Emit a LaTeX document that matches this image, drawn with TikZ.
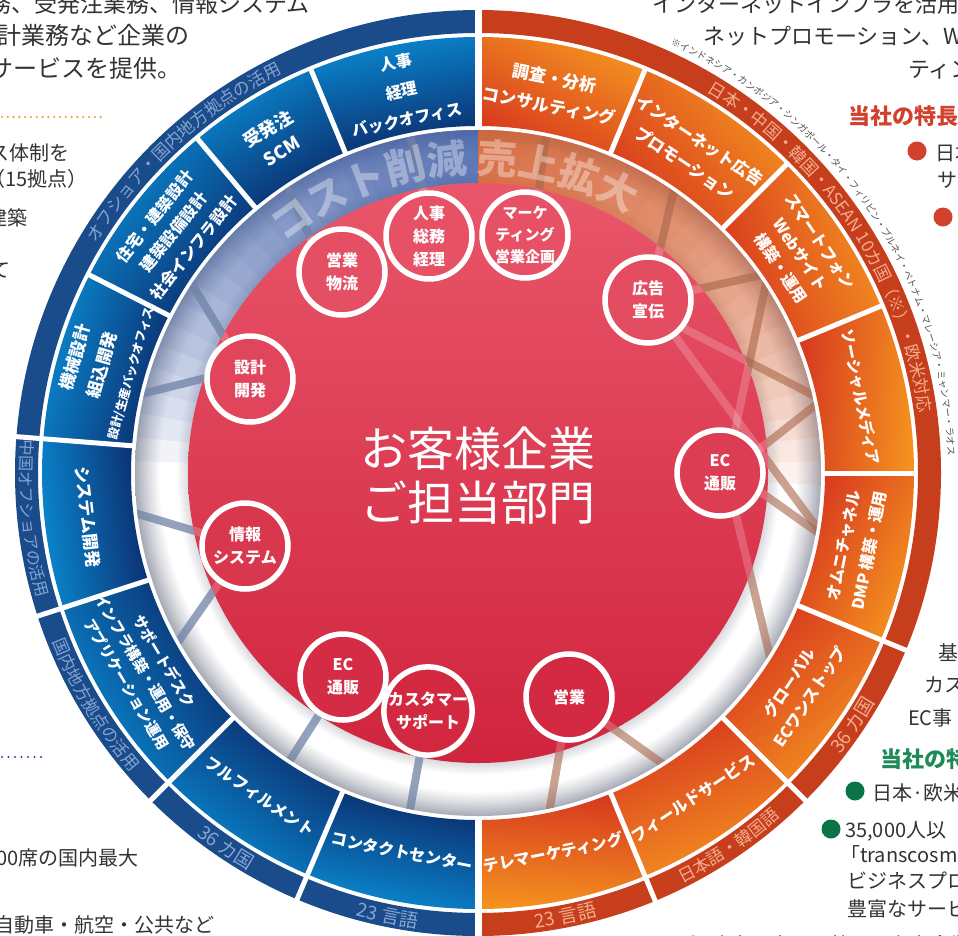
\documentclass[tikz,border=0pt]{standalone}
\usepackage{fontspec}
\setmainfont{Noto Sans CJK JP}
\usetikzlibrary{decorations.text,shadows}
\definecolor{rtop}{HTML}{E9566A}
\definecolor{rbot}{HTML}{D0243D}
\definecolor{bluL}{HTML}{0A8AD2}
\definecolor{bluD}{HTML}{0B2A6A}
\definecolor{bluBand}{HTML}{1A4C8B}
\definecolor{bluTxt}{HTML}{85A4D2}
\definecolor{orL}{HTML}{F4921F}
\definecolor{orD}{HTML}{D7381F}
\definecolor{orBand}{HTML}{C73E1D}
\definecolor{orTxt}{HTML}{F3AE8E}
\definecolor{ringG}{HTML}{A6AAB5}
\definecolor{ringL}{HTML}{D8D9DE}
\definecolor{tintB}{HTML}{3F5FAA}
\definecolor{tintO}{HTML}{D85F2E}
\definecolor{barB}{HTML}{6F82A6}
\definecolor{barO}{HTML}{A8664A}
\definecolor{pageTxt}{HTML}{333333}
\definecolor{redHead}{HTML}{D2412E}
\definecolor{grnHead}{HTML}{1E8A55}
\definecolor{grnDot}{HTML}{0B7446}
\definecolor{noteTxt}{HTML}{505050}
\definecolor{dotOr}{HTML}{F0A030}
\definecolor{dotBl}{HTML}{2850A0}
\pgfdeclareradialshading{ringsh}{\pgfpoint{0bp}{0bp}}{color(0bp)=(ringL); color(21.1bp)=(ringL); color(22bp)=(white); color(23.2bp)=(white); color(24.1bp)=(ringL); color(25bp)=(ringG); color(50bp)=(ringG)}
\tikzset{
 lead/.style={anchor=base west, inner sep=0, text=pageTxt, font=\fontsize{23}{27}\selectfont},
 body/.style={anchor=base west, inner sep=0, text=pageTxt, font=\fontsize{20}{24}\selectfont},
 head/.style={anchor=base west, inner sep=0, font=\bfseries\fontsize{22}{26}\selectfont},
 segtxt/.style={text=white, align=center, inner sep=0},
 bub/.style={circle, draw=white, line width=5.5pt, minimum size=86pt, inner sep=0, text=white, align=center, font=\bfseries\fontsize{16}{23}\selectfont, drop shadow={shadow xshift=2pt, shadow yshift=-3pt, opacity=.3}},
 barb/.style={draw=barB, line width=8pt, opacity=.75},
 baro/.style={draw=barO, line width=8pt, opacity=.6},
 barlite/.style={draw=white, line width=8pt, opacity=.2},
}
\begin{document}
\begin{tikzpicture}[x=1pt,y=1pt]
\useasboundingbox (0,-935) rectangle (958,0);
\clip (0,-935) rectangle (958,0);
\fill[white] (0,-935) rectangle (958,0);
% ---------- surrounding page text ----------
\node[lead] (pl1) at (-12,-12) {務、受発注業務、情報システム};
\node[lead,font=\fontsize{24}{27}\selectfont] (pl2) at (-3,-44) {計業務など企業の};
\node[lead,font=\fontsize{24}{27}\selectfont] (pl3) at (-11,-77) {サービスを提供。};
\draw[dotOr, line width=2.4pt, line cap=round, dash pattern=on 0pt off 5.8pt] (2,-117) -- (103,-117);
\node[body] (pl4) at (-11,-160) {ス体制を};
\node[body] (pl5) at (-15,-186) {（15拠点）};
\node[body] (pl6) at (-13,-225) {建築};
\node[body] (pl7) at (-10,-277) {て};
\draw[dotBl, line width=2.4pt, line cap=round, dash pattern=on 0pt off 6.5pt] (2,-757) -- (42,-757);
\node[body] (pl8) at (-4,-865) {00席の国内最大};
\node[body] (pl9) at (-6,-932) {自動車・航空・公共など};
\node[lead,font=\fontsize{22}{27}\selectfont] (pr1) at (652,-12) {インターネットインフラを活用};
\node[lead,font=\fontsize{22}{27}\selectfont] (pr2) at (703,-44) {ネットプロモーション、W};
\node[lead,font=\fontsize{22}{27}\selectfont] (pr3) at (908,-77) {ティン};
\node[head,text=redHead] (ph1) at (848,-124) {当社の特長};
\fill[redHead] (917,-151) circle (9.5);
\node[body] (pr4) at (935,-160) {日本};
\node[body] (pr5) at (937,-187) {サー};
\fill[redHead] (943,-217) circle (9.5);
\node[body] (pr6) at (938,-660) {基};
\node[body] (pr7) at (924,-692) {カス};
\node[body] (pr8) at (908,-725) {EC事};
\node[head,text=grnHead] (ph2) at (880,-767) {当社の特};
\fill[grnDot] (855,-791) circle (9.5);
\node[body] (pr9) at (872,-800) {日本·欧米};
\fill[grnDot] (831,-829) circle (9.5);
\node[body] (pr10) at (845,-837) {35,000人以};
\node[body] (pr11) at (840,-862) {「transcosm};
\node[body] (pr12) at (847,-888) {ビジネスプロ};
\node[body] (pr13) at (847,-916) {豊富なサービ};
\fill[grnDot] (693,-945) circle (9.5);
\node[body] (pr14) at (710,-952) {欧米・中国・韓国の有力企業};
% ---------- diagram ----------
\begin{scope}[shift={(478,-473)}]
% grey tube ring
\shade[shading=ringsh] (0,0) circle (343);
\foreach \t in {94,98,...,178}{
  \fill[tintB, opacity=.07] (90:343) arc[start angle=90, end angle=\t, radius=343] -- (\t:288) arc[start angle=\t, end angle=90, radius=288] -- cycle;
}
\foreach \t in {86,82,...,-2}{
  \fill[tintO, opacity=.075] (90:343) arc[start angle=90, end angle=\t, radius=343] -- (\t:288) arc[start angle=\t, end angle=90, radius=288] -- cycle;
}
% anchor points of the connectors
\foreach \n/\a in {1/101.4,2/123.4,3/145.9,4/167.3,5/186.2,6/210,7/236.8,8/258.6,9/78.7,10/55.8,11/34.5,12/12,13/-10.5,14/-33.3,15/-78.5,16/-57.1}
  \coordinate (r\n) at (\a:352);
\coordinate (tJinji) at (-44,237);
\coordinate (tEig1) at (-153,201);
\coordinate (tSek) at (-228,94);
\coordinate (tSek2) at (-228,106);
\coordinate (tJoho) at (-233,-73);
\coordinate (tEcL) at (-135,-204);
\coordinate (tCS) at (-50,-238);
\coordinate (tMkt) at (55,238);
\coordinate (tKoku) at (170,173);
\coordinate (tKoku2) at (170,163);
\coordinate (tEcR) at (248,0);
\coordinate (tEcR2) at (242,-7);
\coordinate (tEcR3) at (242,10);
\coordinate (tEig2) at (91,-224);
\begin{scope}
\clip (0,0) circle (343);
\foreach \p/\q in {r1/tJinji,r2/tEig1,r3/tSek,r4/tSek2,r5/tJoho,r6/tJoho,r7/tEcL,r8/tCS}
  \draw[barb] (\p) -- (\q);
\foreach \p/\q in {r9/tMkt,r10/tKoku,r11/tKoku,r12/tKoku2,r13/tKoku,r11/tEcR,r12/tEcR2,r13/tEcR3,r14/tEcR,r15/tEig2,r16/tEig2}
  \draw[baro] (\p) -- (\q);
\end{scope}
% red disc
\shade[top color=rtop, bottom color=rbot] (0,0) circle (290);
\begin{scope}
\clip (0,0) circle (290);
\foreach \p/\q in {r1/tJinji,r2/tEig1,r3/tSek,r4/tSek2,r5/tJoho,r6/tJoho,r7/tEcL,r8/tCS,r9/tMkt,r10/tKoku,r11/tKoku,r12/tKoku2,r13/tKoku,r11/tEcR,r12/tEcR2,r13/tEcR3,r14/tEcR,r15/tEig2,r16/tEig2}
  \draw[barlite] (\p) -- (\q);
\end{scope}
% ring words
\begin{scope}[opacity=.36]
\path[decorate, decoration={text along path, text align=center, text color=white, text={|\bfseries\fontsize{40}{40}\selectfont|コスト削減}}] (132:300) arc[start angle=132, end angle=90, radius=300];
\path[decorate, decoration={text along path, text align=center, text color=white, text={|\bfseries\fontsize{40}{40}\selectfont|売上拡大}}] (92:300) arc[start angle=92, end angle=58, radius=300];
\end{scope}
% centre text
\node[text=white, align=center, font=\fontsize{47}{54}\selectfont] (ctr) at (0,-3) {お客様企業\\ご担当部門};
% bubbles
\node[bub, fill=rtop!91!rbot] (bJinji) at (-49,237) {人事\\総務\\経理};
\node[bub, fill=rtop!91!rbot, font=\bfseries\fontsize{15}{22}\selectfont] (bMkt) at (47,238) {マーケ\\ティング\\営業企画};
\node[bub, fill=rtop!85!rbot] (bEig1) at (-136,201) {営業\\物流};
\node[bub, fill=rtop!80!rbot] (bKoku) at (170,173) {広告\\宣伝};
\node[bub, fill=rtop!66!rbot] (bSek) at (-228,94) {設計\\開発};
\node[bub, fill=rtop!50!rbot] (bEcR) at (242,0) {EC\\通販};
\node[bub, fill=rtop!37!rbot] (bJoho) at (-233,-73) {情報\\システム};
\node[bub, fill=rtop!15!rbot] (bEcL) at (-135,-204) {EC\\通販};
\node[bub, fill=rtop!9!rbot] (bCS) at (-50,-238) {カスタマー\\サポート};
\node[bub, fill=rtop!11!rbot] (bEig2) at (91,-224) {営業};
% outer bands
\fill[bluBand] (90:463) arc[start angle=90, end angle=270, radius=463] -- (270:440) arc[start angle=270, end angle=90, radius=440] -- cycle;
\fill[orBand] (90:463) arc[start angle=90, end angle=-90, radius=463] -- (-90:440) arc[start angle=-90, end angle=90, radius=440] -- cycle;
% segments
\foreach \a/\b in {90/112.5,112.5/130,130/153,153/175.5,175.5/198,198/225,225/247,247/270}{
  \pgfmathsetmacro\sa{(\a+\b)/2-90}
  \shade[top color=bluL, bottom color=bluD, shading angle=\sa] (\a:436) arc[start angle=\a, end angle=\b, radius=436] -- (\b:347) arc[start angle=\b, end angle=\a, radius=347] -- cycle;
}
\foreach \a/\b in {90/67.5,67.5/45,45/22.5,22.5/0,0/-22.5,-22.5/-45,-45/-67.5,-67.5/-90}{
  \pgfmathsetmacro\sa{(\a+\b)/2-105}
  \shade[top color=orL, bottom color=orD, shading angle=\sa] (\a:436) arc[start angle=\a, end angle=\b, radius=436] -- (\b:347) arc[start angle=\b, end angle=\a, radius=347] -- cycle;
}
% white gaps
\foreach \t in {112.5,130,153,67.5,45,22.5,0}
  \draw[white, line width=5pt] (\t:345) -- (\t:438);
\foreach \t in {175.5,198,225,247,-22.5,-45,-67.5}
  \draw[white, line width=5pt] (\t:345) -- (\t:470);
\draw[white, line width=7pt] (90:345) -- (90:470);
\draw[white, line width=7pt] (270:345) -- (270:470);
% segment labels
\foreach \nm/\ang/\rad/\rot/\fs/\bs/\txt in {
  s1/101.3/389.5/11.3/16/29/{人事\\経理\\バックオフィス},
  s2/121.4/391/31.4/18/26/{受発注\\SCM},
  s3/141.6/388/51.6/16/25/{住宅・建築設計\\建築設備設計\\社会インフラ設計},
  s4/164/391/74/17/28/{機械設計\\組込開発\\{\fontsize{12}{14}\selectfont 設計/生産バックオフィス}},
  s5/186.4/392.5/-83.6/17/20/{システム開発},
  s6/211/388/-59/15/22/{サポートデスク\\インフラ構築・運用・保守\\アプリケーション運用},
  s7/236/390.5/-34/16/20/{フルフィルメント},
  s8/258.7/386.5/-11.3/16/20/{コンタクトセンター},
  o1/79/388/-11/17/28/{調査・分析\\コンサルティング},
  o2/56.3/386/-33.7/16.5/27/{インターネット広告\\プロモーション},
  o3/34.1/389/-55.9/16/24/{スマートフォン\\Webサイト\\構築・運用},
  o4/11.2/390/-78.8/15.5/20/{ソーシャルメディア},
  o5/-11.2/386/78.8/16/26/{オムニチャネル\\DMP 構築・運用},
  o6/-34/388/56/16/25/{グローバル\\ECワンストップ},
  o7/-56.5/390/33.5/16/20/{フィールドサービス},
  o8/-78.8/387/11.2/16/20/{テレマーケティング}}{
  \node[segtxt, rotate=\rot, font=\bfseries\fontsize{\fs}{\bs}\selectfont] (\nm) at (\ang:\rad) {\txt};
}
% band labels
\path[decorate, decoration={text along path, text align=center, text color=bluTxt, text={|\fontsize{17}{17}\selectfont|オフショア・国内地方拠点の活用}}] (156:445) arc[start angle=156, end angle=109, radius=445];
\path[decorate, decoration={text along path, text align=center, text color=bluTxt, text={|\fontsize{16}{16}\selectfont|中国オフショアの活用}}] (170:458) arc[start angle=170, end angle=201.6, radius=458];
\path[decorate, decoration={text along path, text align=center, text color=bluTxt, text={|\fontsize{17}{17}\selectfont|国内地方拠点の活用}}] (196:458) arc[start angle=196, end angle=226.4, radius=458];
\path[decorate, decoration={text along path, text align=center, text color=bluTxt, text={|\fontsize{19}{19}\selectfont|36 カ国}}] (226:459) arc[start angle=226, end angle=246.2, radius=459];
\path[decorate, decoration={text along path, text align=center, text color=bluTxt, text={|\fontsize{19}{19}\selectfont|23 言語}}] (249:459) arc[start angle=249, end angle=268, radius=459];
\path[decorate, decoration={text along path, text align=center, text color=orTxt, text={|\fontsize{17}{17}\selectfont|日本・中国・韓国・ASEAN 10カ国（※）・欧米対応}}] (72:445) arc[start angle=72, end angle=-5.2, radius=445];
\path[decorate, decoration={text along path, text align=center, text color=orTxt, text={|\fontsize{19}{19}\selectfont|36 カ国}}] (-44:459) arc[start angle=-44, end angle=-23.8, radius=459];
\path[decorate, decoration={text along path, text align=center, text color=orTxt, text={|\fontsize{17}{17}\selectfont|日本語・韓国語}}] (-68:458) arc[start angle=-68, end angle=-44.2, radius=458];
\path[decorate, decoration={text along path, text align=center, text color=orTxt, text={|\fontsize{19}{19}\selectfont|23 言語}}] (-88:459) arc[start angle=-88, end angle=-69.7, radius=459];
\path[decorate, decoration={text along path, text align=center, text color=noteTxt, text={|\fontsize{9.5}{9.5}\selectfont|※インドネシア・カンボジア・シンガポール・タイ・フィリピン・ブルネイ・ベトナム・マレーシア・ミャンマー・ラオス}}] (68:470) arc[start angle=68, end angle=0, radius=470];
\end{scope}
\end{tikzpicture}
\end{document}
